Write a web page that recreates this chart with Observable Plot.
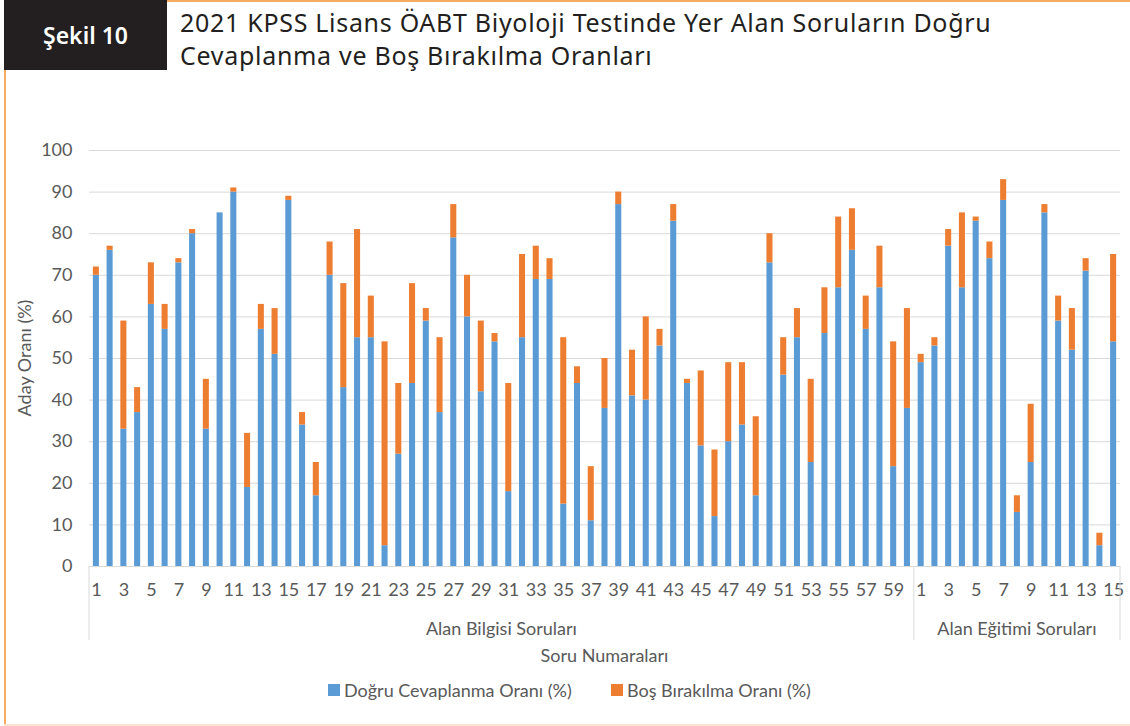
<!DOCTYPE html>
<html><head><meta charset="utf-8">
<script src="https://cdn.jsdelivr.net/npm/d3@7"></script>
<script src="https://cdn.jsdelivr.net/npm/@observablehq/plot@0.6"></script>
<style>
html,body{margin:0;padding:0;background:#fff;}
#page{position:relative;width:1130px;height:726px;overflow:hidden;background:#fff;font-family:Lato,"Noto Sans",sans-serif;}
#badge{position:absolute;left:4px;top:0;width:163px;height:70px;background:#231f20;color:#fff;font:600 23px "Noto Sans",sans-serif;display:flex;align-items:center;justify-content:center;}
#topline{position:absolute;left:167px;top:0;right:0;height:2px;background:#f7ac63;}
#leftline{position:absolute;left:4px;top:70px;width:2px;bottom:0;background:#f7ac63;}
#bottomline{position:absolute;left:4px;right:0;bottom:0;height:2px;background:#fbe3d0;}
#title{position:absolute;left:180px;top:6px;font:400 25px "Noto Sans",sans-serif;letter-spacing:0.7px;line-height:33px;color:#231f20;}
#chart{position:absolute;left:0;top:130px;}
.leg{position:absolute;top:680px;font:18px Lato,sans-serif;color:#595959;line-height:20px;}
.sw{position:absolute;top:684px;width:12px;height:12px;}
</style></head>
<body><div id="page">
<div id="badge">Şekil 10</div>
<div id="topline"></div><div id="leftline"></div><div id="bottomline"></div>
<div id="title">2021 KPSS Lisans ÖABT Biyoloji Testinde Yer Alan Soruların Doğru<br>Cevaplanma ve Boş Bırakılma Oranları</div>
<div id="chart"></div>
<div class="sw" style="left:328px;background:#5b9bd5"></div>
<div class="leg" style="left:344px">Doğru Cevaplanma Oranı (%)</div>
<div class="sw" style="left:611px;background:#ed7d31"></div>
<div class="leg" style="left:627px">Boş Bırakılma Oranı (%)</div>
</div>
<script>
const seriesNames = ["Doğru Cevaplanma Oranı (%)", "Boş Bırakılma Oranı (%)"];
const groupNames = ["Alan Bilgisi Soruları", "Alan Eğitimi Soruları"];
const yTicks = [0,10,20,30,40,50,60,70,80,90,100];

const bilgiNo = d3.range(1, 61);
const bilgiDogru = [70,76,33,37,63,57,73,80,33,85, 90,19,57,51,88,34,17,70,43,55,
  55,5,27,44,59,37,79,60,42,54, 18,55,69,69,15,44,11,38,87,41,
  40,53,83,44,29,12,30,34,17,73, 46,55,25,56,67,76,57,67,24,38];
const bilgiBos = [2,1,26,6,10,6,1,1,12,0, 1,13,6,11,1,3,8,8,25,26,
  10,49,17,24,3,18,8,10,17,2, 26,20,8,5,40,4,13,12,3,11,
  20,4,4,1,18,16,19,15,19,7, 9,7,20,11,17,10,8,10,30,24];

const egitimNo = d3.range(1, 16);
const egitimDogru = [49,53,77,67,83,74,88,13,25,85,59,52,71,5,54];
const egitimBos = [2,2,4,18,1,4,5,4,14,2,6,10,3,3,21];

const groups = [
  {id: "B", name: groupNames[0], no: bilgiNo, dogru: bilgiDogru, bos: bilgiBos},
  {id: "E", name: groupNames[1], no: egitimNo, dogru: egitimDogru, bos: egitimBos}
];
const rows = [];
const keys = [];
groups.forEach(g => g.no.forEach((n, i) => {
  const key = g.id + "-" + n;
  keys.push(key);
  rows.push({key, series: seriesNames[0], value: g.dogru[i]});
  rows.push({key, series: seriesNames[1], value: g.bos[i]});
}));

const chart = Plot.plot({
  width: 1130, height: 540,
  marginLeft: 89, marginRight: 10, marginTop: 20, marginBottom: 104,
  style: {fontFamily: "Lato, sans-serif", fontSize: "18px", color: "#595959", overflow: "visible", background: "transparent"},
  x: {type: "band", domain: keys, paddingInner: 0.56, paddingOuter: 0.28},
  y: {domain: [0, 100]},
  color: {domain: seriesNames, range: ["#5b9bd5", "#ed7d31"]},
  marks: [
    Plot.gridY(yTicks, {stroke: "#d9d9d9", strokeOpacity: 1}),
    Plot.axisY(yTicks, {tickSize: 0, tickPadding: 17, fontSize: 18, label: null, fill: "#595959"}),
    Plot.axisX({tickSize: 0, tickPadding: 17, fontSize: 18, label: null, fill: "#595959",
      tickFormat: k => { const n = +k.split("-")[1]; return n % 2 ? String(n) : ""; }}),
    Plot.barY(rows, Plot.stackY({x: "key", y: "value", fill: "series", order: seriesNames}))
  ]
});
document.getElementById("chart").appendChild(chart);

// group separators and labels from the plot's own scales
const sx = chart.scale("x"), sy = chart.scale("y");
const n = sx.domain.length;
const step = (sx.range[1] - sx.range[0]) / n;
const gap = (step - sx.bandwidth) / 2;
const y0 = sy.apply(0);
const svg = d3.select(chart);
const g = svg.append("g").attr("fill", "#595959").attr("font-size", 18).attr("font-family", "Lato, sans-serif");
const bounds = [];
groups.forEach(gr => {
  const first = gr.id + "-" + gr.no[0], last = gr.id + "-" + gr.no[gr.no.length - 1];
  const left = sx.apply(first) - gap, right = sx.apply(last) + sx.bandwidth + gap;
  bounds.push(left, right);
  g.append("text").attr("x", (left + right) / 2).attr("y", y0 + 64).attr("text-anchor", "middle")
    .attr("dominant-baseline", "middle").text(gr.name);
});
[...new Set(bounds.map(b => Math.round(b * 10) / 10))].forEach(b => {
  svg.append("line").attr("x1", b).attr("x2", b).attr("y1", y0).attr("y2", y0 + 74)
    .attr("stroke", "#d9d9d9");
});
g.append("text").attr("x", (sx.range[0] + sx.range[1]) / 2).attr("y", y0 + 91).attr("text-anchor", "middle")
  .attr("dominant-baseline", "middle").text("Soru Numaraları");
g.append("text").attr("transform", `translate(26,${(sy.apply(0) + sy.apply(100)) / 2 + 0}) rotate(-90)`)
  .attr("text-anchor", "middle").attr("dominant-baseline", "middle").text("Aday Oranı (%)");
</script>
</body></html>
